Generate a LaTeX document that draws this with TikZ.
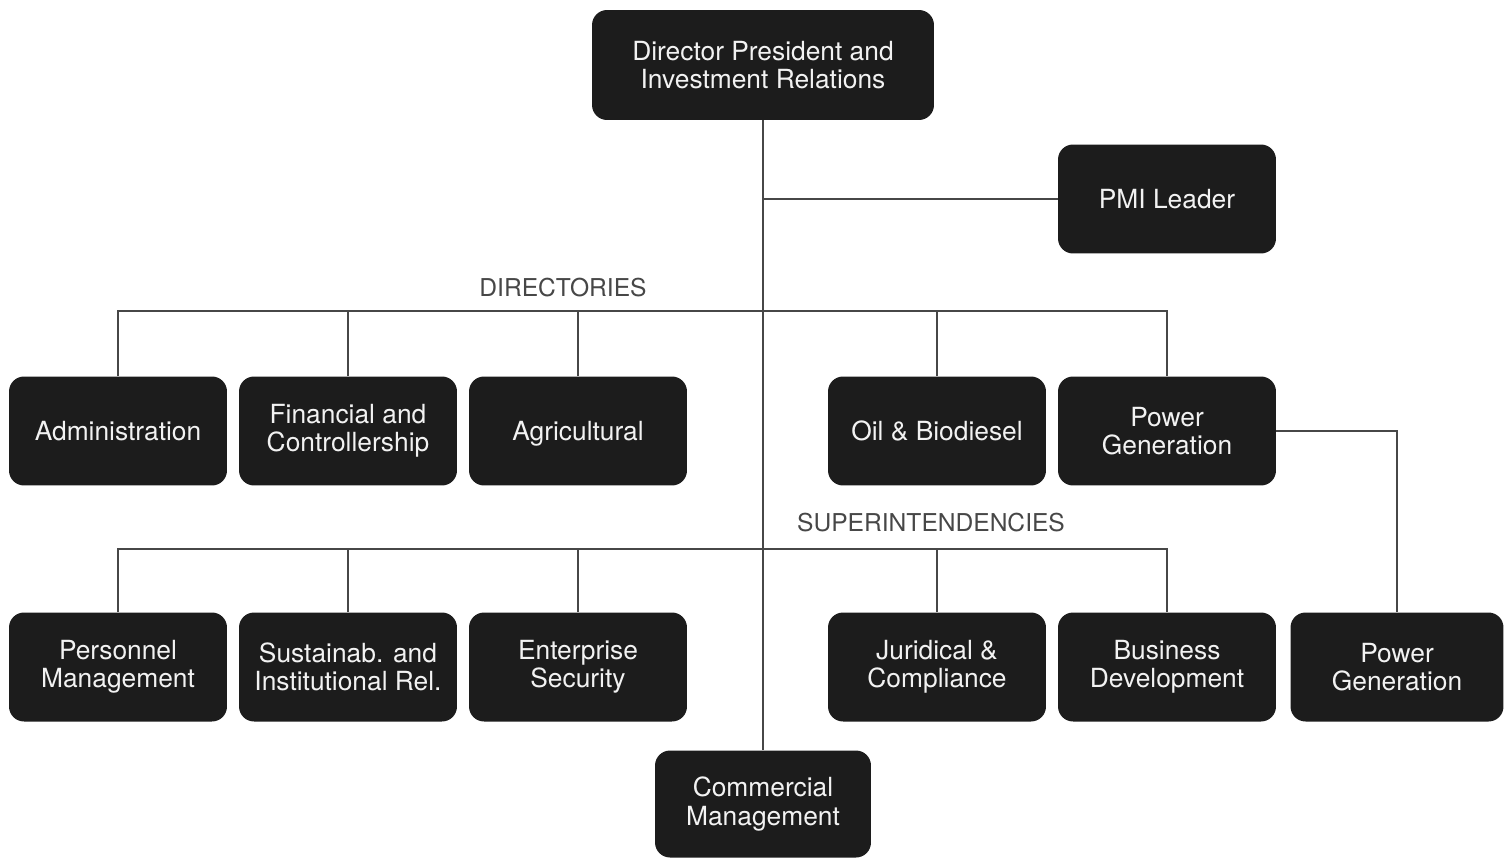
\documentclass[tikz,border=0pt]{standalone}
\usepackage{fontspec}
\setmainfont{TeX Gyre Heros}
\usepackage{tikz}
\definecolor{boxfill}{HTML}{1C1C1C}
\definecolor{boxtext}{HTML}{F2F2F2}
\definecolor{linecol}{HTML}{474747}
\tikzset{
    unit/.style={draw=none, fill=boxfill, text=boxtext, rounded corners=0.3cm,
        minimum width=4.36cm, minimum height=2.18cm, inner sep=0pt, align=center,
        font=\fontsize{15}{16}\selectfont},
    tag/.style={text=linecol, inner sep=0pt, font=\fontsize{14}{16}\selectfont},
    link/.style={draw=linecol, line width=1.1pt},
}
\begin{document}
\begin{tikzpicture}[x=0.02cm, y=-0.02cm]
    \useasboundingbox (0,0) rectangle (1504,859);
    % top
        \node [unit, minimum width=6.84cm, minimum height=2.2cm] (dir) at (763,65) {Director President and\\Investment Relations};
        \node [unit] (pmi) at (1167,199) {PMI Leader};
    % directories
        \node [unit] (adm) at (118,431) {Administration};
        \node [unit] (fin) at (348,431) {Financial and\\Controllership};
        \node [unit] (agr) at (578,431) {\smash{Agricultural}\vphantom{d}};
        \node [unit] (oil) at (937,431) {Oil \& Biodiesel};
        \node [unit] (pga) at (1167,431) {Power\\Generation};
    % superintendencies
        \node [unit] (per) at (118,667) {Personnel\\Management};
        \node [unit] (sus) at (348,667) {Sustainab. and\\Institutional Rel.};
        \node [unit] (ent) at (578,667) {Enterprise\\Security};
        \node [unit] (jur) at (937,667) {Juridical \&\\Compliance};
        \node [unit] (bus) at (1167,667) {Business\\Development};
        \node [unit, minimum width=4.26cm] (pgb) at (1397,667) {Power\\Generation};
        \node [unit, minimum width=4.32cm, minimum height=2.14cm] (com) at (763,804) {Commercial\\Management};
    % labels
        \node [tag] (dlab) at (563,288) {DIRECTORIES};
        \node [tag] (slab) at (931,523) {SUPERINTENDENCIES};
    % lines
        \coordinate (dbus) at (763,311);
        \coordinate (sbus) at (763,549);
        \draw [link] (dir.south) -- (com.north);
        \draw [link] (pmi.west) -- (dir.south |- pmi.west);
        \draw [link] (adm.north) |- (dbus) -| (pga.north);
        \draw [link] (fin.north) -- (fin.north |- dbus);
        \draw [link] (agr.north) -- (agr.north |- dbus);
        \draw [link] (oil.north) -- (oil.north |- dbus);
        \draw [link] (per.north) |- (sbus) -| (bus.north);
        \draw [link] (sus.north) -- (sus.north |- sbus);
        \draw [link] (ent.north) -- (ent.north |- sbus);
        \draw [link] (jur.north) -- (jur.north |- sbus);
        \draw [link] (pga.east) -| (pgb.north);
    \end{tikzpicture}
\end{document}
